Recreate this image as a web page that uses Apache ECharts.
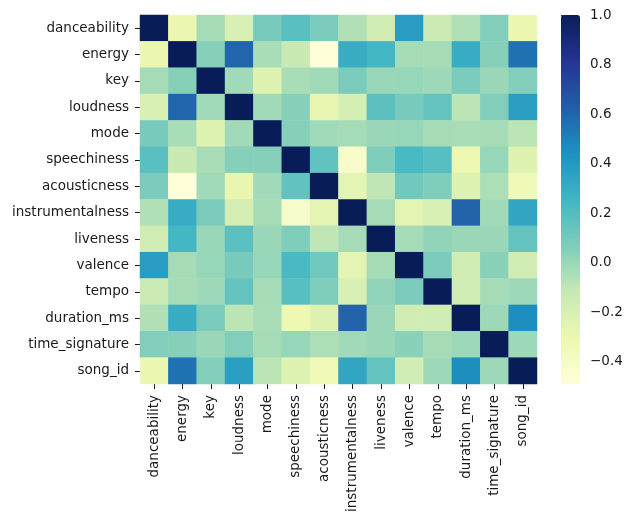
<!DOCTYPE html>
<html>
<head>
<meta charset="utf-8">
<script src="https://cdn.jsdelivr.net/npm/echarts@6/dist/echarts.min.js"></script>
<style>
    html, body { margin: 0; padding: 0; background: #fff; }
    #heatChart { width: 633px; height: 524px; }
</style>
</head>
<body>
<div id="heatChart"></div>
<script>
// 변수 이름 (행/열 공통)
const columns = ['danceability', 'energy', 'key', 'loudness', 'mode', 'speechiness', 'acousticness',
    'instrumentalness', 'liveness', 'valence', 'tempo', 'duration_ms', 'time_signature', 'song_id'];

// 상관계수 행 (그림에서 색으로 읽은 값)
const danceability     = [ 1.00, -0.30, -0.03, -0.20,  0.09,  0.18,  0.08, -0.06, -0.16,  0.38, -0.14, -0.06,  0.06, -0.30];
const energy           = [-0.30,  1.00,  0.05,  0.60, -0.04, -0.13, -0.49,  0.30,  0.25, -0.03, -0.03,  0.30,  0.05,  0.55];
const key              = [-0.03,  0.05,  1.00, -0.02, -0.23, -0.04, -0.02,  0.08,  0.00,  0.01, -0.01,  0.08,  0.00,  0.06];
const loudness         = [-0.20,  0.60, -0.02,  1.00, -0.02,  0.05, -0.28, -0.18,  0.17,  0.09,  0.15, -0.09,  0.06,  0.37];
const mode             = [ 0.09, -0.04, -0.23, -0.02,  1.00,  0.05, -0.02, -0.03,  0.00,  0.01, -0.03, -0.04, -0.03, -0.09];
const speechiness      = [ 0.18, -0.13, -0.04,  0.05,  0.05,  1.00,  0.16, -0.42,  0.07,  0.23,  0.19, -0.31,  0.01, -0.23];
const acousticness     = [ 0.08, -0.49, -0.02, -0.28, -0.02,  0.16,  1.00, -0.26, -0.10,  0.11,  0.07, -0.23, -0.05, -0.33];
const instrumentalness = [-0.06,  0.30,  0.08, -0.18, -0.03, -0.42, -0.26,  1.00, -0.03, -0.26, -0.20,  0.61, -0.02,  0.34];
const liveness         = [-0.16,  0.25,  0.00,  0.17,  0.00,  0.07, -0.10, -0.03,  1.00, -0.03,  0.02,  0.00,  0.00,  0.15];
const valence          = [ 0.38, -0.03,  0.01,  0.09,  0.01,  0.23,  0.11, -0.26, -0.03,  1.00,  0.08, -0.17,  0.04, -0.17];
const tempo            = [-0.14, -0.03, -0.01,  0.15, -0.03,  0.19,  0.07, -0.20,  0.02,  0.08,  1.00, -0.15, -0.03, -0.01];
const duration_ms      = [-0.06,  0.30,  0.08, -0.09, -0.04, -0.31, -0.23,  0.61,  0.00, -0.17, -0.15,  1.00, -0.01,  0.45];
const time_signature   = [ 0.06,  0.05,  0.00,  0.06, -0.03,  0.01, -0.05, -0.02,  0.00,  0.04, -0.03, -0.01,  1.00, -0.01];
const song_id          = [-0.30,  0.55,  0.06,  0.37, -0.09, -0.23, -0.33,  0.34,  0.15, -0.17, -0.01,  0.45, -0.01,  1.00];

// 컬러바 눈금
const colorbarTicks = [-0.4, -0.2, 0.0, 0.2, 0.4, 0.6, 0.8, 1.0];

const rows = [danceability, energy, key, loudness, mode, speechiness, acousticness,
    instrumentalness, liveness, valence, tempo, duration_ms, time_signature, song_id];

// [x, y, value] 형태로 변환
const heatData = [];
rows.forEach((row, y) => row.forEach((v, x) => heatData.push([x, y, v])));

const vMin = -0.49;
const vMax = 1.0;

const fontFamily = 'DejaVu Sans';
const textColor = '#1a1a1a';

const chartOption = {
    animation: false,
    grid: [
        { left: 140, top: 15, width: 397, height: 369 },
        { left: 561, top: 15, width: 19, height: 369 }
    ],
    xAxis: [
        {
            type: 'category',
            data: columns,
            gridIndex: 0,
            axisLine: { show: false },
            axisTick: { show: true, alignWithLabel: true, length: 5, lineStyle: { color: textColor } },
            axisLabel: { rotate: 90, margin: 11, color: textColor, fontSize: 13.5, fontFamily: fontFamily, interval: 0 },
            splitArea: { show: false }
        },
        { type: 'value', gridIndex: 1, show: false }
    ],
    yAxis: [
        {
            type: 'category',
            data: columns,
            inverse: true,
            gridIndex: 0,
            axisLine: { show: false },
            axisTick: { show: true, alignWithLabel: true, length: 5, lineStyle: { color: textColor } },
            axisLabel: { margin: 11, color: textColor, fontSize: 13.5, fontFamily: fontFamily, interval: 0 },
            splitArea: { show: false }
        },
        {
            type: 'value',
            gridIndex: 1,
            position: 'right',
            min: vMin,
            max: vMax,
            axisLine: { show: false },
            splitLine: { show: false },
            axisTick: { show: true, length: 5, customValues: colorbarTicks, lineStyle: { color: textColor } },
            axisLabel: {
                margin: 10,
                color: textColor,
                fontSize: 13.5,
                fontFamily: fontFamily,
                customValues: colorbarTicks,
                formatter: (v) => v.toFixed(1).replace('-', '\u2212')
            }
        }
    ],
    visualMap: {
        type: 'continuous',
        seriesIndex: 0,
        min: vMin,
        max: vMax,
        calculable: false,
        showLabel: false,
        left: 561,
        top: 15,
        padding: 0,
        itemWidth: 19,
        itemHeight: 369,
        inRange: {
            color: ['#ffffd9', '#edf8b1', '#c7e9b4', '#7fcdbb', '#41b6c4', '#1d91c0', '#225ea8', '#253494', '#081d58']
        }
    },
    series: [
        {
            type: 'heatmap',
            xAxisIndex: 0,
            yAxisIndex: 0,
            data: heatData,
            itemStyle: { borderWidth: 0 },
            emphasis: { disabled: true }
        }
    ]
};

const heatChart = echarts.init(document.getElementById('heatChart'));
heatChart.setOption(chartOption);
</script>
</body>
</html>
